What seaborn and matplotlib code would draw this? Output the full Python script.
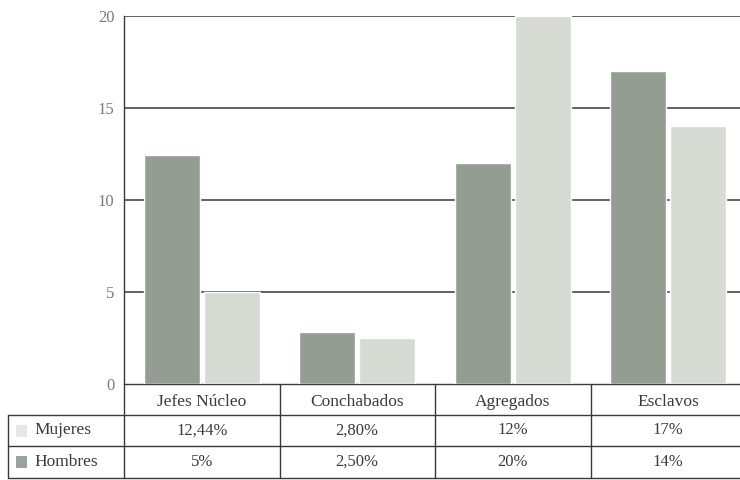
import matplotlib
matplotlib.use("Agg")
import matplotlib.pyplot as plt
from matplotlib.lines import Line2D
from matplotlib.patches import Rectangle
import seaborn as sns
import pandas as pd

# ---- data -------------------------------------------------------------
categorias = ["Jefes Núcleo", "Conchabados", "Agregados", "Esclavos"]
series = ["Mujeres", "Hombres"]
etiquetas_mujeres = ["12,44%", "2,80%", "12%", "17%"]
etiquetas_hombres = ["5%", "2,50%", "20%", "14%"]
yticks = [0, 5, 10, 15, 20]


def a_numero(txt):
    return float(txt.replace("%", "").replace(",", "."))


valores_mujeres = [a_numero(t) for t in etiquetas_mujeres]
valores_hombres = [a_numero(t) for t in etiquetas_hombres]

df = pd.DataFrame({
    "categoria": categorias * 2,
    "serie": ["Mujeres"] * 4 + ["Hombres"] * 4,
    "valor": valores_mujeres + valores_hombres,
})

# ---- style ------------------------------------------------------------
sns.set_theme(style="white")
plt.rcParams["font.family"] = ["Liberation Serif", "DejaVu Serif"]

oscuro = "#939d92"
claro = "#d6dcd3"
paleta = {"Mujeres": oscuro, "Hombres": claro}
muestras = {"Mujeres": "#e6e9e3", "Hombres": "#9aa39a"}
texto = "#3a3a3a"
linea = "#383838"

W, H = 740, 480
fig = plt.figure(figsize=(W / 100, H / 100), dpi=100)

# axes in pixel units; the last category runs slightly past the right edge
ax_l, ax_r, ax_t, ax_b = 124, 740, 16, 384
unidad = 155.5
ax = fig.add_axes([ax_l / W, 1 - ax_b / H, (ax_r - ax_l) / W, (ax_b - ax_t) / H])

sns.barplot(data=df, x="categoria", y="valor", hue="serie", order=categorias,
            hue_order=series, palette=paleta, width=0.77, gap=0.07,
            saturation=1, legend=False, ax=ax, zorder=3)

ax.set_xlim(-0.5, -0.5 + (ax_r - ax_l) / unidad)
ax.set_ylim(0, 20)
ax.set_yticks(yticks)
ax.set_yticklabels([str(t) for t in yticks], color="#7a7a7a", fontsize=12)
ax.tick_params(axis="y", direction="out", length=4, width=0.9, color=linea, pad=3)
ax.set_xticks([])
ax.set_xlabel("")
ax.set_ylabel("")
for side in ["top", "right", "bottom"]:
    ax.spines[side].set_visible(False)
ax.spines["left"].set_color(linea)
ax.spines["left"].set_linewidth(1.0)
for t in yticks[1:]:
    ax.axhline(t, color=linea, lw=1.1, zorder=1)

# ---- data table under the axes ------------------------------------------
ax_h = ax_b - ax_t
row_px = [384, 415, 446, 478]
row_y = [-(y - ax_b) / ax_h for y in row_px]   # axes fraction
tr = ax.get_xaxis_transform()                  # x data, y axes fraction
x_izq = -0.5 - (ax_l - 8) / unidad             # left edge of the label column
x_der = ax.get_xlim()[1]


def regla(xs, ys):
    ax.add_artist(Line2D(xs, ys, transform=tr, color=linea, lw=1.0,
                         clip_on=False))


regla([-0.5, x_der], [row_y[0], row_y[0]])
for y in row_y[1:]:
    regla([x_izq, x_der], [y, y])
regla([x_izq, x_izq], [row_y[1], row_y[3]])
for i in range(len(categorias)):
    regla([i - 0.5, i - 0.5], [row_y[0], row_y[3]])

fs = 12.5
for i, cat in enumerate(categorias):
    ax.text(i, (row_y[0] + row_y[1]) / 2 - 0.006, cat, transform=tr,
            ha="center", va="center", fontsize=fs, color=texto)
    ax.text(i, (row_y[1] + row_y[2]) / 2, etiquetas_mujeres[i], transform=tr,
            ha="center", va="center", fontsize=fs - 0.5, color=texto)
    ax.text(i, (row_y[2] + row_y[3]) / 2, etiquetas_hombres[i], transform=tr,
            ha="center", va="center", fontsize=fs - 0.5, color=texto)


def px(x, y):
    return x / W, 1 - y / H


for j, nombre in enumerate(series):
    yc = (row_px[j + 1] + row_px[j + 2]) / 2
    sx, sy = px(16, yc + 6)
    fig.add_artist(Rectangle((sx, sy), 11 / W, 12 / H, facecolor=muestras[nombre],
                             edgecolor="none", transform=fig.transFigure))
    fig.text(*px(34, yc), nombre, ha="left", va="center", fontsize=fs,
             color=texto)

fig.savefig("out.png", dpi=100, facecolor="white")
